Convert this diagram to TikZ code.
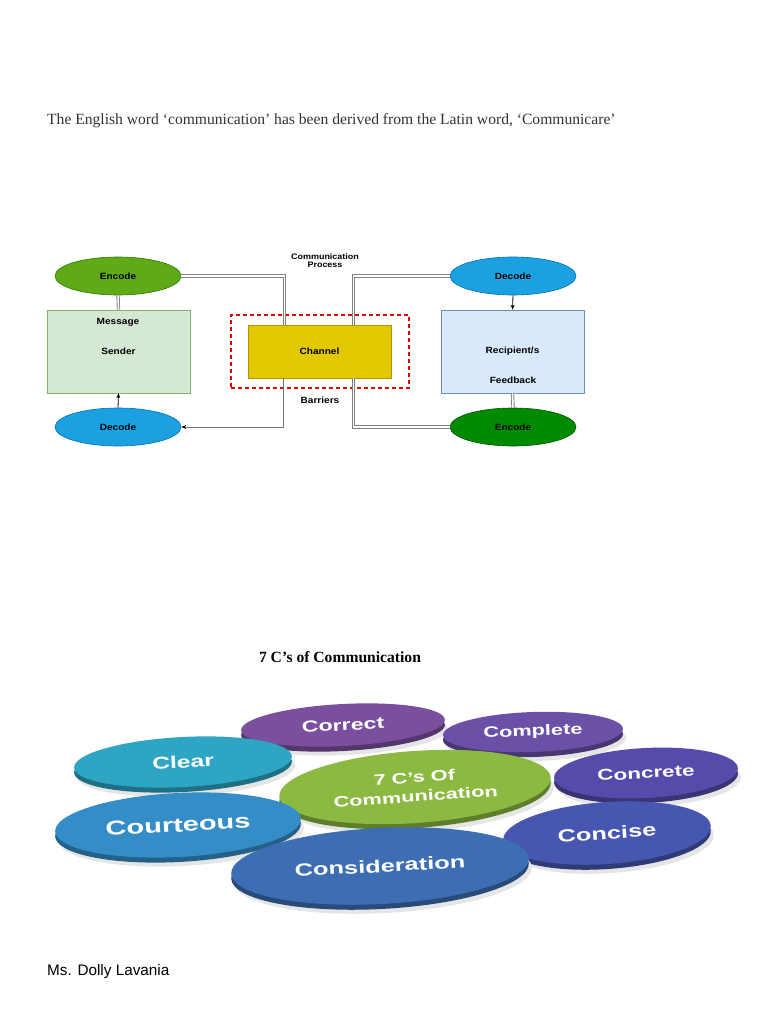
\documentclass[tikz,border=0pt]{standalone}
\usepackage{fontspec}
\setmainfont{Liberation Serif}
\setsansfont{Liberation Sans}
\newfontfamily\discfont{Liberation Sans}[FakeStretch=1.45]
\newfontfamily\diagfont{Liberation Sans}[FakeStretch=1.12]
\usetikzlibrary{shapes.geometric,calc,arrows.meta}
\definecolor{textgray}{HTML}{333333}
\definecolor{encA}{HTML}{60A917}
\definecolor{encAd}{HTML}{2D7600}
\definecolor{decA}{HTML}{1BA1E2}
\definecolor{decAd}{HTML}{006EAF}
\definecolor{encB}{HTML}{008A00}
\definecolor{encBd}{HTML}{005700}
\definecolor{sendfill}{HTML}{D5E8D4}
\definecolor{senddraw}{HTML}{82B366}
\definecolor{recfill}{HTML}{DAE8FC}
\definecolor{recdraw}{HTML}{6C8EBF}
\definecolor{chfill}{HTML}{E3C800}
\definecolor{chdraw}{HTML}{B09500}
\definecolor{cCorrect}{HTML}{7A4F9E}
\definecolor{cComplete}{HTML}{6A50A7}
\definecolor{cClear}{HTML}{2EA5C3}
\definecolor{cCenter}{HTML}{8CB941}
\definecolor{cConcrete}{HTML}{564BAB}
\definecolor{cCourteous}{HTML}{358DC8}
\definecolor{cConcise}{HTML}{4756AF}
\definecolor{cConsid}{HTML}{3D6EB4}
\newcommand\mydisc[9]{%
  \node[discbase, fill=black!10, minimum width=#4, minimum height=#5, rotate=#6] (#1-shadow) at (#2+3,#3+9) {};
  \node[discbase, fill=#7!68!black, minimum width=#4, minimum height=#5, rotate=#6] (#1-side) at (#2,#3+5) {};
  \node[discbase, fill=#7, minimum width=#4, minimum height=#5, rotate=#6, text=white,
        font=\discfont\bfseries\fontsize{#8}{#8}\selectfont, align=center] (#1) at (#2,#3) {#9};}
\begin{document}
\begin{tikzpicture}[x=1pt,y=-1pt,
  dtext/.style={font=\diagfont\bfseries\fontsize{9}{8}\selectfont, inner sep=0},
  oval/.style={ellipse, minimum width=126, minimum height=38, inner sep=0, line width=0.6pt, dtext},
  boxs/.style={rectangle, minimum width=143, minimum height=83, inner sep=0, line width=0.6pt, dtext},
  dbl/.style={draw=black!50, line width=0.9pt, double=white, double distance=1.5pt},
  conn/.style={draw=black, line width=0.8pt, -{Stealth[length=5pt,width=4pt]}},
  gconn/.style={draw=black!55, line width=0.8pt, -{Stealth[length=5pt,width=4pt,color=black]}},
  discbase/.style={ellipse, inner sep=0, draw=none}]
\useasboundingbox[fill=white] (0,0) rectangle (768,1024);

\node[anchor=base west, font=\fontsize{15.6}{19}\selectfont, text=textgray, inner sep=0] (intro) at (47,125)
  {The English word ‘communication’ has been derived from the Latin word, ‘Communicare’};

% communication process diagram
\node[rectangle, minimum width=178, minimum height=73, draw=red!90!black, line width=1.1pt,
      dash pattern=on 4pt off 3pt] (barrier) at (320,351.5) {};
\node[rectangle, minimum width=143, minimum height=53, fill=chfill, draw=chdraw, line width=0.6pt, dtext] (channel) at (319.5,351.5) {Channel};
\node[oval, fill=encA, draw=encAd] (enc1) at (118,276) {Encode};
\node[oval, fill=decA, draw=decAd] (dec1) at (118,427) {Decode};
\node[oval, fill=decA, draw=decAd] (dec2) at (513,276) {Decode};
\node[oval, fill=encB, draw=encBd] (enc2) at (513,427) {Encode};
\node[boxs, fill=sendfill, draw=senddraw] (sender) at (118.5,351.5) {Sender};
\node[dtext] (message) at (118,322) {Message};
\node[boxs, fill=recfill, draw=recdraw] (recip) at (512.5,351.5) {Recipient/s};
\node[dtext] (feedback) at (513,380) {Feedback};
\node[dtext, font=\diagfont\bfseries\fontsize{8}{8.6}\selectfont, align=center] (proc) at (325,260.5) {Communication\\Process};
\node[dtext] (barriers) at (320,400) {Barriers};

\draw[dbl] (enc1.east) -| ($(channel.north west)+(37,0)$);
\draw[dbl] (enc1.south) -- (sender.north);
\draw[gconn] ($(channel.south west)+(36,0)$) |- (dec1.east);
\draw[conn] (dec1.north) -- (sender.south);
\draw[dbl] ($(channel.north west)+(106,0)$) |- (dec2.west);
\draw[conn] (dec2.south) -- (recip.north);
\draw[dbl] (recip.south) -- (enc2.north);
\draw[dbl] (enc2.west) -| ($(channel.south west)+(106,0)$);

% 7 C's
\node[font=\bfseries\fontsize{15.6}{19}\selectfont, inner sep=0] (title) at (340,657) {7 C’s of Communication};

\mydisc{correct}{343}{725}{204}{42}{3}{cCorrect}{16}{Correct}
\mydisc{complete}{533}{732}{180}{40}{2}{cComplete}{15}{Complete}
\mydisc{clear}{183}{762}{218}{50}{3}{cClear}{17}{Clear}
\mydisc{concrete}{646}{773}{184}{50}{3}{cConcrete}{15.5}{Concrete}
\mydisc{center}{415}{787}{272}{72}{4}{cCenter}{15}{7 C’s Of\\[4pt]Communication}
\mydisc{courteous}{178}{825}{246}{64}{3}{cCourteous}{20}{Courteous}
\mydisc{concise}{607}{833}{208}{62}{4}{cConcise}{17.5}{Concise}
\mydisc{consid}{380}{866}{298}{76}{3}{cConsid}{17.5}{Consideration}

\node[anchor=west, font=\sffamily\fontsize{15.3}{19}\selectfont, inner sep=0] (author) at (47,972) {Ms. Dolly Lavania};
\end{tikzpicture}
\end{document}
